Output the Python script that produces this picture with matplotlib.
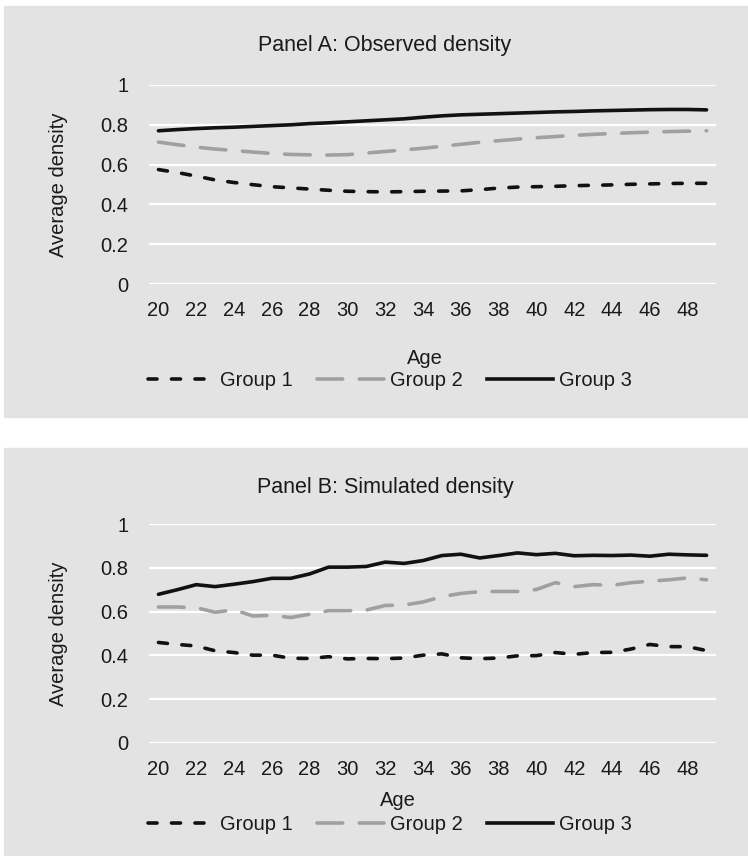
import numpy as np
import matplotlib
matplotlib.use("Agg")
import matplotlib.pyplot as plt
from matplotlib.patches import Rectangle
from matplotlib.lines import Line2D

plt.rcParams['font.family'] = ['Liberation Sans', 'DejaVu Sans']

ages = list(range(20, 50))
group_names = ["Group 1", "Group 2", "Group 3"]

# Panel A: observed density
obs_g1 = [0.575, 0.560, 0.542, 0.523, 0.510, 0.499, 0.489, 0.483, 0.477, 0.471,
          0.466, 0.464, 0.463, 0.464, 0.466, 0.467, 0.468, 0.474, 0.482, 0.487,
          0.489, 0.491, 0.494, 0.496, 0.498, 0.501, 0.503, 0.505, 0.506, 0.506]
obs_g2 = [0.713, 0.700, 0.688, 0.678, 0.671, 0.663, 0.656, 0.651, 0.649, 0.648,
          0.650, 0.658, 0.666, 0.674, 0.682, 0.692, 0.702, 0.712, 0.720, 0.728,
          0.735, 0.741, 0.747, 0.752, 0.756, 0.760, 0.763, 0.766, 0.768, 0.770]
obs_g3 = [0.770, 0.776, 0.781, 0.785, 0.788, 0.792, 0.796, 0.800, 0.806, 0.810,
          0.815, 0.820, 0.825, 0.830, 0.838, 0.845, 0.850, 0.853, 0.856, 0.859,
          0.862, 0.865, 0.867, 0.870, 0.872, 0.874, 0.876, 0.877, 0.877, 0.875]

# Panel B: simulated density
sim_g1 = [0.459, 0.450, 0.443, 0.421, 0.413, 0.401, 0.401, 0.387, 0.386, 0.394,
          0.384, 0.386, 0.385, 0.388, 0.401, 0.407, 0.389, 0.385, 0.388, 0.398,
          0.399, 0.413, 0.405, 0.413, 0.414, 0.429, 0.450, 0.440, 0.440, 0.422]
sim_g2 = [0.621, 0.621, 0.618, 0.597, 0.608, 0.580, 0.583, 0.573, 0.588, 0.604,
          0.604, 0.607, 0.628, 0.630, 0.644, 0.668, 0.683, 0.691, 0.692, 0.692,
          0.701, 0.732, 0.714, 0.723, 0.720, 0.732, 0.739, 0.745, 0.754, 0.745]
sim_g3 = [0.679, 0.700, 0.723, 0.714, 0.725, 0.737, 0.752, 0.752, 0.772, 0.803,
          0.803, 0.806, 0.826, 0.820, 0.833, 0.856, 0.862, 0.845, 0.856, 0.868,
          0.860, 0.866, 0.855, 0.857, 0.856, 0.858, 0.853, 0.862, 0.859, 0.857]

W, H = 748, 856
bg = "#e3e3e3"
fs = 14.5
txt = "#1a1a1a"
styles = [
    dict(color="#111111", linestyle=(0, (2.5, 4.0))),
    dict(color="#a0a0a0", linestyle=(0, (7.1, 4.6))),
    dict(color="#111111", linestyle="-"),
]

fig = plt.figure(figsize=(W / 100, H / 100), dpi=100)
fig.patches.append(Rectangle((4 / W, 1 - 417 / H), 744 / W, 411 / H,
                             transform=fig.transFigure, color=bg, zorder=-5))
fig.patches.append(Rectangle((4 / W, 0), 744 / W, 1 - 448 / H,
                             transform=fig.transFigure, color=bg, zorder=-5))


def panel(top, bottom, title, title_y, series, age_x, age_y, leg_y):
    ax = fig.add_axes([149 / W, 1 - bottom / H, 567 / W, (bottom - top) / H])
    ax.set_facecolor(bg)
    for vals, st in zip(series, styles):
        ax.plot(ages, vals, lw=2.6, solid_capstyle="round",
                dash_capstyle="round", **st)
    ax.set_xlim(19.5, 49.5)
    ax.set_ylim(0, 1)
    ax.set_yticks([0, 0.2, 0.4, 0.6, 0.8, 1])
    ax.set_yticklabels(["0", "0.2", "0.4", "0.6", "0.8", "1"])
    ax.set_xticks(list(range(20, 50, 2)))
    ax.grid(axis="y", color="white", lw=1.6)
    ax.set_axisbelow(True)
    for s in ax.spines.values():
        s.set_visible(False)
    ax.tick_params(axis="both", length=0, labelsize=fs, colors=txt)
    ax.tick_params(axis="y", pad=15)
    ax.tick_params(axis="x", pad=12)
    fig.text(385 / W, 1 - title_y / H, title, ha="center", va="center",
             fontsize=fs + 1, color=txt)
    fig.text(58 / W, 1 - (top + bottom) / 2 / H, "Average density",
             rotation=90, ha="center", va="center", fontsize=fs, color=txt)
    fig.text(age_x / W, 1 - age_y / H, "Age", ha="center", va="center",
             fontsize=fs, color=txt)
    handles = [Line2D([], [], lw=2.6, dash_capstyle="round", **st) for st in styles]
    fig.legend(handles, group_names, loc="center",
               bbox_to_anchor=(390 / W, 1 - leg_y / H), ncol=3, frameon=False,
               fontsize=fs, handlelength=3.3, handletextpad=0.3,
               columnspacing=1.2, labelcolor=txt)
    return ax


panel(85, 284, "Panel A: Observed density", 45, [obs_g1, obs_g2, obs_g3], 425, 358, 381)
panel(524, 743, "Panel B: Simulated density", 487, [sim_g1, sim_g2, sim_g3], 398, 800, 825)

fig.savefig("out.png", dpi=100)
